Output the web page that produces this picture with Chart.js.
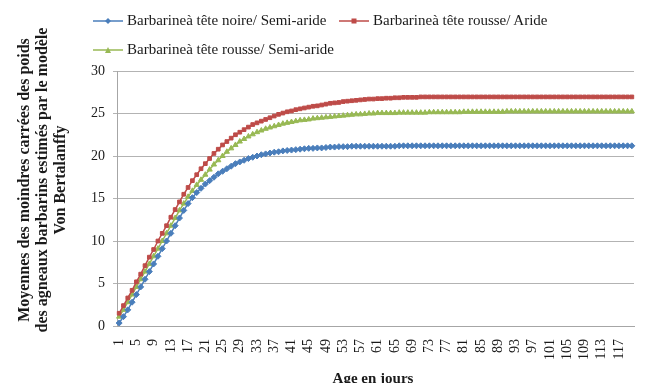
<!DOCTYPE html>
<html lang="fr">
  <head>
    <meta charset="UTF-8" />
    <title>Von Bertalanffy - agneaux barbarins</title>
    <script src="https://cdn.jsdelivr.net/npm/chart.js"></script>
    <style>
      body {
        margin: 0;
        background: #fff;
        font-family: "Liberation Serif", "Times New Roman", serif;
      }
      #wrap {
        position: relative;
        width: 654px;
        height: 383px;
      }
      .leg {
        position: absolute;
        display: flex;
        align-items: center;
        font-size: 15px;
        color: #1a1a1a;
        white-space: nowrap;
      }
      .leg svg {
        margin-right: 4px;
      }
    </style>
  </head>
  <body>
    <div id="wrap">
      <canvas id="chart"></canvas>
      <div class="leg" style="left:93px;top:12px">
        <svg width="30" height="10"><line x1="0" y1="5" x2="30" y2="5" stroke="#4a7ebb" stroke-width="1.5"/><polygon points="15,2 18,5 15,8 12,5" fill="#4a7ebb"/></svg>
        Barbarineà tête noire/ Semi-aride
      </div>
      <div class="leg" style="left:339px;top:12px">
        <svg width="30" height="10"><line x1="0" y1="5" x2="30" y2="5" stroke="#be4b48" stroke-width="1.5"/><rect x="12.5" y="2.5" width="5" height="5" fill="#be4b48"/></svg>
        Barbarineà tête rousse/ Aride
      </div>
      <div class="leg" style="left:93px;top:41px">
        <svg width="30" height="10"><line x1="0" y1="5" x2="30" y2="5" stroke="#98b954" stroke-width="1.5"/><polygon points="15,2 18,8 12,8" fill="#98b954"/></svg>
        Barbarineà tête rousse/ Semi-aride
      </div>
    </div>

    <script>
      const days = [
        1, 2, 3, 4, 5, 6, 7, 8, 9, 10, 11, 12, 13, 14, 15, 16, 17, 18, 19, 20,
        21, 22, 23, 24, 25, 26, 27, 28, 29, 30, 31, 32, 33, 34, 35, 36, 37, 38, 39, 40,
        41, 42, 43, 44, 45, 46, 47, 48, 49, 50, 51, 52, 53, 54, 55, 56, 57, 58, 59, 60,
        61, 62, 63, 64, 65, 66, 67, 68, 69, 70, 71, 72, 73, 74, 75, 76, 77, 78, 79, 80,
        81, 82, 83, 84, 85, 86, 87, 88, 89, 90, 91, 92, 93, 94, 95, 96, 97, 98, 99, 100,
        101, 102, 103, 104, 105, 106, 107, 108, 109, 110, 111, 112, 113, 114, 115, 116, 117, 118, 119, 120,
      ];

      // tête noire / semi-aride
      const noireSemiAride = [
        0.35, 1.1, 1.9, 2.8, 3.7, 4.6, 5.5, 6.4, 7.3, 8.2,
        9.1, 10.0, 10.9, 11.8, 12.7, 13.6, 14.4, 15.1, 15.7, 16.2,
        16.7, 17.1, 17.5, 17.9, 18.2, 18.5, 18.8, 19.1, 19.3, 19.5,
        19.7, 19.85, 20.0, 20.15, 20.25, 20.35, 20.45, 20.5, 20.6, 20.65,
        20.7, 20.75, 20.8, 20.85, 20.9, 20.9, 20.95, 20.95, 21.0, 21.05,
        21.05, 21.1, 21.1, 21.1, 21.15, 21.15, 21.15, 21.15, 21.15, 21.15,
        21.15, 21.15, 21.15, 21.15, 21.15, 21.2, 21.2, 21.2, 21.2, 21.2,
        21.2, 21.2, 21.2, 21.2, 21.2, 21.2, 21.2, 21.2, 21.2, 21.2,
        21.2, 21.2, 21.2, 21.2, 21.2, 21.2, 21.2, 21.2, 21.2, 21.2,
        21.2, 21.2, 21.2, 21.2, 21.2, 21.2, 21.2, 21.2, 21.2, 21.2,
        21.2, 21.2, 21.2, 21.2, 21.2, 21.2, 21.2, 21.2, 21.2, 21.2,
        21.2, 21.2, 21.2, 21.2, 21.2, 21.2, 21.2, 21.2, 21.2, 21.2,
      ];

      // tête rousse / aride
      const rousseAride = [
        1.5, 2.4, 3.3, 4.2, 5.2, 6.1, 7.1, 8.1, 9.0, 10.0,
        10.9, 11.8, 12.8, 13.7, 14.6, 15.5, 16.3, 17.1, 17.8, 18.5,
        19.1, 19.7, 20.3, 20.8, 21.3, 21.7, 22.1, 22.5, 22.8, 23.1,
        23.4, 23.7, 23.9, 24.1, 24.3, 24.5, 24.7, 24.9, 25.05, 25.2,
        25.3, 25.45, 25.55, 25.65, 25.75, 25.85, 25.9, 26.0, 26.1, 26.2,
        26.25, 26.3, 26.4, 26.45, 26.5, 26.55, 26.6, 26.65, 26.7, 26.7,
        26.75, 26.75, 26.8, 26.8, 26.85, 26.85, 26.9, 26.9, 26.9, 26.9,
        26.95, 26.95, 26.95, 26.95, 26.95, 26.95, 26.95, 26.95, 26.95, 26.95,
        26.95, 26.95, 26.95, 26.95, 26.95, 26.95, 26.95, 26.95, 26.95, 26.95,
        26.95, 26.95, 26.95, 26.95, 26.95, 26.95, 26.95, 26.95, 26.95, 26.95,
        26.95, 26.95, 26.95, 26.95, 26.95, 26.95, 26.95, 26.95, 26.95, 26.95,
        26.95, 26.95, 26.95, 26.95, 26.95, 26.95, 26.95, 26.95, 26.95, 26.95,
      ];

      // tête rousse / semi-aride
      const rousseSemiAride = [
        1.1, 1.9, 2.8, 3.7, 4.6, 5.5, 6.4, 7.3, 8.2, 9.1,
        10.0, 10.9, 11.8, 12.7, 13.6, 14.4, 15.2, 15.9, 16.6, 17.2,
        17.8, 18.4, 19.0, 19.5, 20.0, 20.5, 20.9, 21.3, 21.7, 22.0,
        22.3, 22.55, 22.8, 23.0, 23.2, 23.35, 23.5, 23.65, 23.8, 23.9,
        24.0, 24.1, 24.2, 24.25, 24.3, 24.4, 24.45, 24.5, 24.55, 24.6,
        24.65, 24.7, 24.75, 24.8, 24.85, 24.9, 24.9, 24.95, 25.0, 25.0,
        25.05, 25.05, 25.05, 25.05, 25.05, 25.1, 25.1, 25.1, 25.1, 25.1,
        25.1, 25.1, 25.15, 25.15, 25.15, 25.15, 25.15, 25.15, 25.15, 25.15,
        25.2, 25.2, 25.2, 25.2, 25.2, 25.2, 25.2, 25.2, 25.2, 25.2,
        25.25, 25.25, 25.25, 25.25, 25.25, 25.25, 25.25, 25.25, 25.25, 25.25,
        25.25, 25.25, 25.25, 25.25, 25.25, 25.25, 25.25, 25.25, 25.25, 25.25,
        25.25, 25.25, 25.25, 25.25, 25.25, 25.25, 25.25, 25.25, 25.25, 25.25,
      ];

      const yTitle = [
        "Moyennes des moindres carrées des poids",
        "des agneaux barbarins estimés par le modèle",
        "Von Bertalanffy",
      ];
      const xTitle = "Age en jours";

      Chart.defaults.font.family = '"Liberation Serif", "Times New Roman", serif';
      Chart.defaults.color = "#1a1a1a";

      // axis titles drawn by hand so they sit where the original has them
      const titles = {
        id: "titles",
        afterDraw(chart) {
          const ctx = chart.ctx;
          ctx.save();
          ctx.fillStyle = "#1a1a1a";
          ctx.font = 'bold 16px "Liberation Serif", serif';
          ctx.textAlign = "center";
          ctx.textBaseline = "middle";
          ctx.translate(25, 180);
          ctx.rotate(-Math.PI / 2);
          yTitle.forEach((t, i) => ctx.fillText(t, 0, i * 18));
          ctx.restore();

          ctx.save();
          ctx.fillStyle = "#1a1a1a";
          ctx.font = 'bold 15px "Liberation Serif", serif';
          ctx.textAlign = "center";
          ctx.textBaseline = "middle";
          ctx.fillText(xTitle, 373, 379);
          ctx.restore();
        },
      };

      function series(label, data, color, style, radius) {
        return {
          label,
          data,
          borderColor: color,
          backgroundColor: color,
          borderWidth: 1.5,
          pointStyle: style,
          pointRadius: radius,
          pointBorderWidth: 1,
          pointBorderColor: color,
          pointBackgroundColor: color,
          tension: 0,
        };
      }

      new Chart(document.getElementById("chart"), {
        type: "line",
        data: {
          labels: days,
          datasets: [
            series("Barbarineà tête noire/ Semi-aride", noireSemiAride, "#4a7ebb", "rectRot", 3),
            series("Barbarineà tête rousse/ Aride", rousseAride, "#be4b48", "rect", 2.6),
            series("Barbarineà tête rousse/ Semi-aride", rousseSemiAride, "#98b954", "triangle", 3),
          ],
        },
        options: {
          responsive: true,
          maintainAspectRatio: false,
          animation: false,
          layout: { padding: { top: 71, right: 20, left: 0, bottom: 0 } },
          plugins: {
            legend: { display: false },
            tooltip: { enabled: false },
          },
          scales: {
            x: {
              offset: true,
              grid: { display: false },
              border: { color: "#a6a6a6" },
              ticks: {
                autoSkip: false,
                minRotation: 90,
                maxRotation: 90,
                padding: 5,
                font: { size: 14 },
                callback: (v, i) => (i % 4 === 0 ? days[i] : ""),
              },
              afterFit(scale) {
                scale.height = 57;
              },
            },
            y: {
              min: 0,
              max: 30,
              grid: { color: "#b3b3b3", tickLength: 4 },
              border: { color: "#a6a6a6" },
              ticks: { stepSize: 5, padding: 8, font: { size: 14 } },
              afterFit(scale) {
                scale.width = 117;
              },
            },
          },
        },
        plugins: [titles],
      });
    </script>
  </body>
</html>
